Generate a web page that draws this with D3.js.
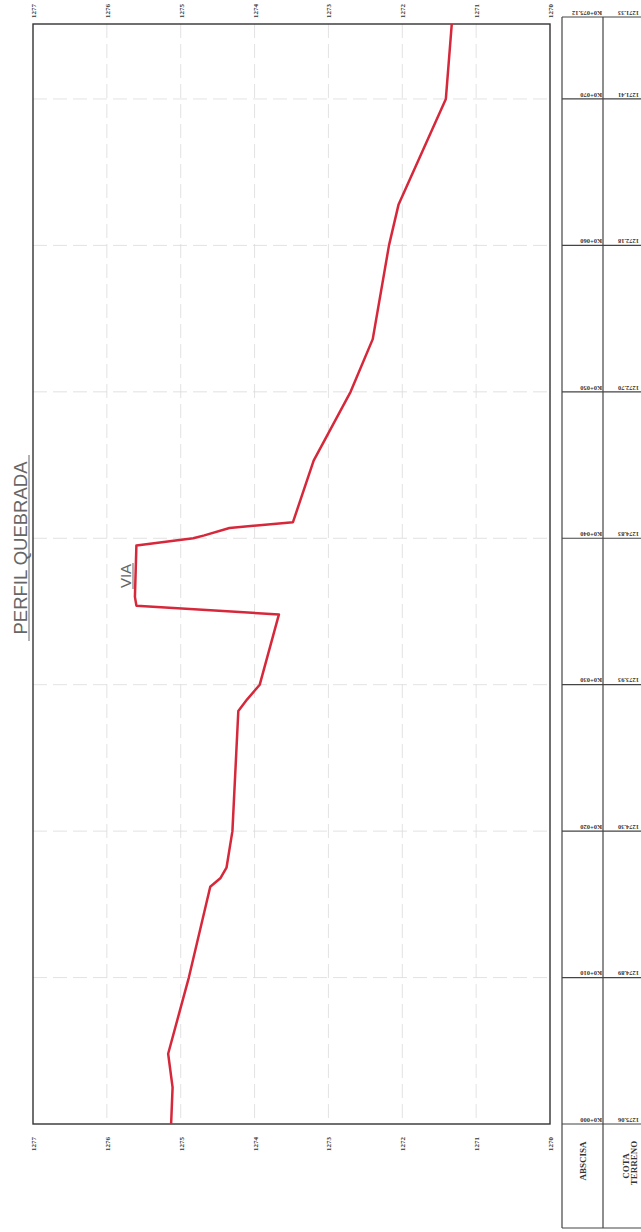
<!DOCTYPE html>
<html>
<head>
<meta charset="utf-8">
<script src="https://cdn.jsdelivr.net/npm/d3@7"></script>
<style>
  html, body { margin: 0; padding: 0; background: #fff; }
  svg { display: block; }
</style>
</head>
<body>
<div id="chart"></div>
<script>
// Table stations (abscisa) and ground elevations (cota terreno)
var stations = [0, 10, 20, 30, 40, 50, 60, 70, 75.12];
var stationLabels = ["K0+000", "K0+010", "K0+020", "K0+030", "K0+040", "K0+050", "K0+060", "K0+070", "K0+075.12"];
var cotaTerreno = ["1275.06", "1274.89", "1274.30", "1273.93", "1274.83", "1272.70", "1272.18", "1271.41", "1271.33"];

// Elevation ticks
var elevTicks = [1270, 1271, 1272, 1273, 1274, 1275, 1276, 1277];

// Profile line (abscisa, cota)
var profileAbscisa = [0, 2.5, 4.8, 10, 16.2, 16.8, 17.5, 20, 28.2, 29.0, 30, 34.8, 35.4, 36.0, 39.5, 40.0, 40.2, 40.7, 41.1, 45.3, 50, 53.6, 60, 62.8, 70, 75.12];
var profileCota = [1275.13, 1275.11, 1275.17, 1274.89, 1274.60, 1274.46, 1274.38, 1274.30, 1274.22, 1274.10, 1273.93, 1273.67, 1275.60, 1275.62, 1275.60, 1274.83, 1274.68, 1274.34, 1273.48, 1273.20, 1272.70, 1272.40, 1272.18, 1272.05, 1271.41, 1271.33];

var width = 641, height = 1232;

var svg = d3.select("#chart")
    .append("svg")
        .attr("width", width)
        .attr("height", height);

// The sheet is turned: abscisa runs bottom -> top, cota runs right -> left
var yScale = d3.scaleLinear()
    .domain([0, 75.12])
    .range([1124, 24]);

var xScale = d3.scaleLinear()
    .domain([1270, 1277])
    .range([550, 33]);

var tableLeft = 562, tableMid = 603, tableRight = 660, tableBottom = 1228;

///////////////////////////////// Grid /////////////////////////////////

var grid = svg.append("g")
    .attr("stroke", "#dadada")
    .attr("stroke-width", 0.8)
    .attr("stroke-dasharray", "14,6");

grid.selectAll("line.v")
    .data(elevTicks.slice(1, -1))
    .enter()
    .append("line")
        .attr("x1", d => xScale(d))
        .attr("x2", d => xScale(d))
        .attr("y1", yScale(75.12))
        .attr("y2", yScale(0));

grid.selectAll("line.h")
    .data(stations.slice(1, -1))
    .enter()
    .append("line")
        .attr("x1", xScale(1277))
        .attr("x2", xScale(1270))
        .attr("y1", d => yScale(d))
        .attr("y2", d => yScale(d));

///////////////////////////////// Frame /////////////////////////////////

svg.append("rect")
    .attr("x", xScale(1277))
    .attr("y", yScale(75.12))
    .attr("width", xScale(1270) - xScale(1277))
    .attr("height", yScale(0) - yScale(75.12))
    .attr("fill", "none")
    .attr("stroke", "#333")
    .attr("stroke-width", 1.4);

// Elevation labels, top and bottom
function elevLabels(yAnchor) {
    svg.append("g")
        .selectAll("text")
        .data(elevTicks)
        .enter()
        .append("text")
            .attr("transform", d => "translate(" + (xScale(d) + 3) + "," + yAnchor + ") rotate(-90)")
            .text(d => d)
            .style("font-family", "Liberation Serif")
            .style("font-weight", "bold")
            .style("font-size", "7px")
            .style("fill", "#333");
}
elevLabels(18);
elevLabels(1151);

///////////////////////////////// Profile /////////////////////////////////

var profile = profileAbscisa.map((s, i) => [s, profileCota[i]]);

var line = d3.line()
    .x(d => xScale(d[1]))
    .y(d => yScale(d[0]));

svg.append("path")
    .datum(profile)
    .attr("d", line)
    .attr("fill", "none")
    .attr("stroke", "#d6283a")
    .attr("stroke-width", 2.5)
    .attr("stroke-linejoin", "round");

// Title
var title = svg.append("g")
    .attr("transform", "translate(27," + 548 + ") rotate(-90)");
title.append("text")
    .attr("text-anchor", "middle")
    .text("PERFIL QUEBRADA")
    .style("font-family", "Liberation Sans")
    .style("font-size", "18.5px")
    .style("fill", "#666");
title.append("line")
    .attr("x1", -93).attr("x2", 93)
    .attr("y1", 2).attr("y2", 2)
    .attr("stroke", "#666")
    .attr("stroke-width", 1);

// VIA label
var via = svg.append("g")
    .attr("transform", "translate(131,576) rotate(-90)");
via.append("text")
    .attr("text-anchor", "middle")
    .text("VIA")
    .style("font-family", "Liberation Sans")
    .style("font-size", "15px")
    .style("fill", "#666");
via.append("line")
    .attr("x1", -13).attr("x2", 13)
    .attr("y1", 2).attr("y2", 2)
    .attr("stroke", "#666")
    .attr("stroke-width", 1);

///////////////////////////////// Table /////////////////////////////////

var table = svg.append("g")
    .attr("stroke", "#444")
    .attr("stroke-width", 1.2);

[tableLeft, tableMid].forEach(function(x) {
    table.append("line")
        .attr("x1", x).attr("x2", x)
        .attr("y1", yScale(75.12) - 7)
        .attr("y2", tableBottom);
});

table.selectAll("line.row")
    .data(stations)
    .enter()
    .append("line")
        .attr("x1", tableLeft)
        .attr("x2", tableRight)
        .attr("y1", d => d === 75.12 ? yScale(d) - 7 : yScale(d))
        .attr("y2", d => d === 75.12 ? yScale(d) - 7 : yScale(d));

table.append("line")
    .attr("x1", tableLeft).attr("x2", tableRight)
    .attr("y1", tableBottom).attr("y2", tableBottom);

// Station labels (upside down)
svg.append("g")
    .selectAll("text")
    .data(stations)
    .enter()
    .append("text")
        .attr("transform", (d, i) => "translate(" + (tableMid - 1) + "," + (yScale(d) - (d === 75.12 ? 8 : 1.5)) + ") rotate(180)")
        .attr("dominant-baseline", "hanging")
        .text((d, i) => stationLabels[i])
        .style("font-family", "Liberation Serif")
        .style("font-weight", "bold")
        .style("font-size", "6.5px")
        .style("fill", "#333");

// Cota labels (upside down)
svg.append("g")
    .selectAll("text")
    .data(stations)
    .enter()
    .append("text")
        .attr("transform", (d, i) => "translate(" + 639 + "," + (yScale(d) - (d === 75.12 ? 8 : 1.5)) + ") rotate(180)")
        .attr("dominant-baseline", "hanging")
        .text((d, i) => cotaTerreno[i])
        .style("font-family", "Liberation Serif")
        .style("font-weight", "bold")
        .style("font-size", "6.5px")
        .style("fill", "#333");

// Row headings
svg.append("text")
    .attr("transform", "translate(586,1161) rotate(-90)")
    .attr("text-anchor", "middle")
    .text("ABSCISA")
    .style("font-family", "Liberation Serif")
    .style("font-weight", "bold")
    .style("font-size", "9px")
    .style("fill", "#333");

var cota = svg.append("text")
    .attr("transform", "translate(629,1163) rotate(-90)")
    .attr("text-anchor", "middle")
    .style("font-family", "Liberation Serif")
    .style("font-weight", "bold")
    .style("font-size", "9px")
    .style("fill", "#333");
cota.append("tspan").attr("x", -3).attr("dy", 0).text("COTA");
cota.append("tspan").attr("x", 0).attr("dy", 8).text("TERRENO");
</script>
</body>
</html>
